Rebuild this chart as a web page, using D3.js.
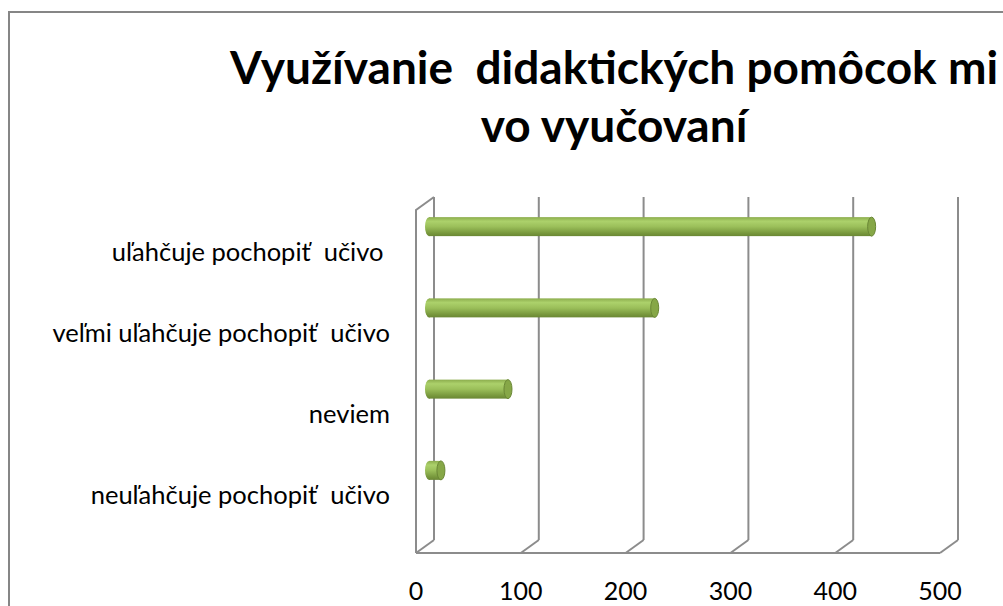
<!DOCTYPE html>
<html>
<head>
<meta charset="utf-8">
<script src="https://cdn.jsdelivr.net/npm/d3@7"></script>
<style>
  body { margin: 0; background: #fff; }
  svg { display: block; }
  text { white-space: pre; }
</style>
</head>
<body>
<div id="chart"></div>
<script>
// data
var categories = ["uľahčuje pochopiť  učivo ", "veľmi uľahčuje pochopiť  učivo", "neviem", "neuľahčuje pochopiť  učivo"];
var values = [430, 223, 83, 19];
var ticks = [0, 100, 200, 300, 400, 500];
var titleLines = ["Využívanie  didaktických pomôcok mi", "vo vyučovaní"];

var W = 1003, H = 606;
var depth = {dx: 18, dy: -13}; // 3d offset of the back wall

var svg = d3.select("#chart").append("svg")
    .attr("width", W)
    .attr("height", H);

var defs = svg.append("defs");
var grad = defs.append("linearGradient")
    .attr("id", "cyl")
    .attr("x1", 0).attr("y1", 0).attr("x2", 0).attr("y2", 1);
grad.append("stop").attr("offset", "0%").attr("stop-color", "#8cad4d");
grad.append("stop").attr("offset", "22%").attr("stop-color", "#acd16b");
grad.append("stop").attr("offset", "50%").attr("stop-color", "#9bbf5a");
grad.append("stop").attr("offset", "85%").attr("stop-color", "#77973c");
grad.append("stop").attr("offset", "100%").attr("stop-color", "#6a8734");

// chart frame
svg.append("rect")
    .attr("x", 9).attr("y", 12)
    .attr("width", 1100).attr("height", 700)
    .attr("fill", "#fff")
    .attr("stroke", "#868686")
    .attr("stroke-width", 2);

// title
svg.append("g").selectAll("text")
    .data(titleLines)
    .enter().append("text")
    .attr("x", 614)
    .attr("y", function(d, i) { return 84 + i * 58; })
    .attr("text-anchor", "middle")
    .attr("font-family", "Lato, sans-serif")
    .attr("font-weight", "bold")
    .attr("font-size", 46)
    .attr("fill", "#000")
    .text(function(d) { return d; });

// scales (front plane)
var x = d3.scaleLinear()
    .domain([0, 500])
    .range([416, 940]);

var y = d3.scaleBand()
    .domain(categories)
    .range([212, 537]);

var wallTop = 210, wallFloor = 553;
var gridColor = "#8c8c8c";

var grid = svg.append("g")
    .attr("fill", "none")
    .attr("stroke", gridColor)
    .attr("stroke-width", 2);

// back wall gridlines
grid.selectAll(".back")
    .data(ticks)
    .enter().append("line")
    .attr("class", "back")
    .attr("x1", function(d) { return x(d) + depth.dx; })
    .attr("x2", function(d) { return x(d) + depth.dx; })
    .attr("y1", wallTop + depth.dy)
    .attr("y2", wallFloor + depth.dy);

// floor diagonals
grid.selectAll(".diag")
    .data(ticks)
    .enter().append("line")
    .attr("class", "diag")
    .attr("x1", function(d) { return x(d); })
    .attr("y1", wallFloor)
    .attr("x2", function(d) { return x(d) + depth.dx; })
    .attr("y2", wallFloor + depth.dy);

// front floor edge
grid.append("line")
    .attr("x1", x(0)).attr("x2", x(500))
    .attr("y1", wallFloor).attr("y2", wallFloor);

// left side wall
grid.append("path")
    .attr("d", "M" + x(0) + "," + wallFloor + "V" + wallTop +
        "L" + (x(0) + depth.dx) + "," + (wallTop + depth.dy));

// bars (cylinders)
var bh = 19, capRx = 4;
var bars = svg.append("g").selectAll(".bar")
    .data(values)
    .enter().append("g")
    .attr("class", "bar")
    .attr("transform", function(d, i) {
        var cy = y(categories[i]) + y.bandwidth() / 2 - 26;
        return "translate(0," + (cy - bh / 2) + ")";
    });

var x0 = x(0) + depth.dx / 2;
var xs = function(v) { return x0 + (x(v) - x(0)); };

bars.append("rect")
    .attr("x", x0 + capRx)
    .attr("y", 0)
    .attr("width", function(d) { return xs(d) - x0 - 2 * capRx; })
    .attr("height", bh)
    .attr("fill", "url(#cyl)");

// left rounded end
bars.append("ellipse")
    .attr("cx", x0 + capRx)
    .attr("cy", bh / 2)
    .attr("rx", capRx)
    .attr("ry", bh / 2)
    .attr("fill", "url(#cyl)");

// right cap
bars.append("ellipse")
    .attr("cx", function(d) { return xs(d) - capRx; })
    .attr("cy", bh / 2)
    .attr("rx", capRx)
    .attr("ry", bh / 2)
    .attr("fill", "#86a747")
    .attr("stroke", "#6a8735")
    .attr("stroke-width", 1);

// category labels
svg.append("g").selectAll("text")
    .data(categories)
    .enter().append("text")
    .attr("x", 390)
    .attr("y", function(d) { return y(d) + y.bandwidth() / 2 + 8; })
    .attr("text-anchor", "end")
    .attr("font-family", "Lato, sans-serif")
    .attr("font-size", 25.5)
    .attr("fill", "#000")
    .text(function(d) { return d; });

// value axis labels
svg.append("g").selectAll("text")
    .data(ticks)
    .enter().append("text")
    .attr("x", function(d) { return x(d); })
    .attr("y", 600)
    .attr("text-anchor", "middle")
    .attr("font-family", "Lato, sans-serif")
    .attr("font-size", 25)
    .attr("fill", "#000")
    .text(function(d) { return d; });
</script>
</body>
</html>
